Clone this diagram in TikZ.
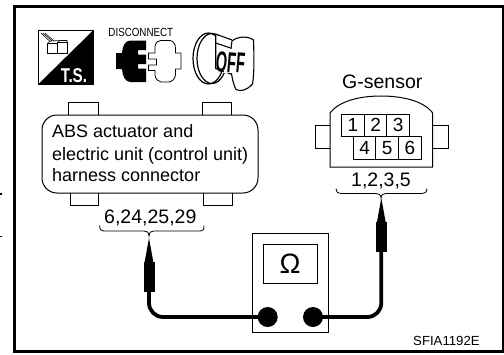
\documentclass[tikz,border=0pt]{standalone}
\usepackage{fontspec}
\setmainfont{Liberation Sans}
\begin{document}
\begin{tikzpicture}[x=1pt,y=-1pt,
  thin line/.style={draw=black,line width=1pt},
  label/.style={inner sep=0pt,anchor=base west,text=black,font=\fontsize{18}{20}\selectfont},
  biglabel/.style={inner sep=0pt,anchor=base west,text=black,font=\fontsize{19.5}{22}\selectfont},
  cell/.style={draw=black,line width=1pt,minimum width=22.6pt,minimum height=22.6pt,inner sep=0pt,font=\fontsize{19}{20}\selectfont},
  grip/.style={fill=black,inner sep=0pt,minimum width=11pt,minimum height=30pt},
  jack/.style={circle,fill=black,inner sep=0pt,minimum size=20pt},
  wire/.style={line width=3.8pt,rounded corners=14pt},
  brace/.style={line width=.8pt}]
\useasboundingbox (0,0) rectangle (504,354);
\fill[white] (0,0) rectangle (504,354);
% frame
\draw[line width=2.7pt] (504,6.3) -- (14.7,6.3) -- (14.7,351.3) -- (504,351.3);
\draw[line width=2.7pt] (503,6.3) -- (503,351.3);
\draw[line width=1.2pt] (0,194) -- (1.5,194);
\draw[line width=.5pt] (0,236.7) -- (1.5,236.7);
% T.S. icon
\draw[line width=.8pt] (38.5,30.5) rectangle (93,84);
\fill (93,30.5) -- (93,84) -- (38.5,84) -- cycle;
\node[inner sep=0pt,anchor=base,text=white,xscale=.76,font=\fontsize{20}{20}\bfseries\selectfont] (ts) at (74,82) {T.S.};
\begin{scope}[line width=.55pt]
\draw (47.5,43.5) rectangle (57.5,53.5);
\draw (57.5,42.5) rectangle (67,53.5);
\draw (47.5,43.5) -- (50.5,41) -- (60,40.5) -- (57.5,42.5) (60,40.5) -- (67,40.5) -- (67,42.5);
\draw (41,33) -- (50,41.5) (43,33) -- (52,41) (45,33) -- (54,41);
\end{scope}
% disconnect icon
\node[inner sep=0pt,anchor=base west,xscale=.83,font=\fontsize{11.8}{12}\selectfont] (disc) at (108.3,36.8) {DISCONNECT};
\fill (116,53) -- (122,53) .. controls (122.5,46) and (125,41) .. (130,40.5) -- (146,40.5)
  -- (146,50) -- (138,50) -- (138,54.5) -- (146,54.5) -- (146,64) -- (138,64) -- (138,68.5) -- (146,68.5) -- (146,82)
  -- (130,82) .. controls (125,81.5) and (122.5,76) .. (122,69) -- (116,69) -- cycle;
\draw[line width=.8pt,line join=round] (148.5,53) -- (155,53) -- (155,46) .. controls (156,42) and (158,40.5) .. (161,40.5) -- (170,40.5)
  .. controls (173,41) and (175.5,44) .. (175.5,48) -- (175.5,53) -- (181,53) -- (181,69) -- (175.5,69) -- (175.5,75)
  .. controls (175,79) and (172,81.5) .. (169,82) -- (161,82) .. controls (158,81.5) and (155.5,79) .. (155,75) -- (155,70.5)
  -- (148.5,70.5) -- (148.5,65) -- (156.5,65) -- (156.5,59) -- (148.5,59) -- cycle;
% key icon
\draw[line width=1.2pt] (208.5,58.5) ellipse (15.5 and 25.5);
\draw[line width=1.2pt] (212,58.5) ellipse (15 and 25);
\fill[white] (216,35) -- (232,40) -- (232,75) -- (216,69) -- cycle;
\draw[line width=1.1pt] (215.7,34) -- (215.7,68.5) -- (232,74.5);
\draw[line width=1.1pt] (215.7,43) -- (232,48.5);
\draw[line width=1.1pt] (215.7,34) -- (232,40);
\draw[line width=1.1pt,fill=white] (232,41) .. controls (238,36) and (248,36) .. (253.5,40)
  .. controls (254,55) and (254.5,72) .. (252.5,84) .. controls (247,90) and (241,92) .. (236,89.5)
  .. controls (231,80) and (229,60) .. (232,41);
\fill[white] (224,49) rectangle (245,73);
\node[inner sep=0pt,rotate=-5,xscale=.5,font=\fontsize{29}{29}\bfseries\selectfont] (off) at (230.5,62.5) {OFF};
% ABS connector
\draw[thin line] (68.5,115) |- (98,102) -- (98,115);
\draw[thin line] (202,115) |- (231,102) -- (231,115);
\draw[thin line] (70,193) |- (98.5,205.5) -- (98.5,193);
\draw[thin line] (203.5,193) |- (232.5,205.5) -- (232.5,193);
\draw[thin line,rounded corners=15pt] (42,115) rectangle (258,193);
\node[label] (l1) at (52,137.5) {ABS actuator and};
\node[label] (l2) at (52,160) {electric unit (control unit)};
\node[label] (l3) at (52,181.5) {harness connector};
\node[biglabel] (pinsl) at (104,223.5) {6,24,25,29};
\draw[brace] (99.5,225.5) .. controls (100,230) and (101,231) .. (105,231) -- (144,231) .. controls (147,231) and (148.5,232) .. (149,236)
  .. controls (149.5,232) and (151,231) .. (154,231) -- (199,231) .. controls (203,231) and (204,230) .. (204,225.5);
% G-sensor
\node[biglabel] (gs) at (342,88) {G-sensor};
\draw[thin line] (330,125) -| (315,148) -- (330,148);
\draw[thin line] (432.7,125) -| (448,148) -- (432.7,148);
\draw[thin line] (330,167) -- (330,113) .. controls (340,100) and (362,96) .. (381,96) .. controls (400,96) and (423,100) .. (432.7,113) -- (432.7,167) -- cycle;
\node[cell] (c1) at (353,125.3) {1};
\node[cell] (c2) at (375.6,125.3) {2};
\node[cell] (c3) at (398.2,125.3) {3};
\node[cell] (c4) at (364.6,147.9) {4};
\node[cell] (c5) at (387.2,147.9) {5};
\node[cell] (c6) at (409.8,147.9) {6};
\node[biglabel] (pinsr) at (351,186) {1,2,3,5};
\draw[brace] (336,188.5) .. controls (336.5,192.5) and (338,193.5) .. (341,193.5) -- (376,193.5) .. controls (379,193.5) and (380.5,194.5) .. (381,198)
  .. controls (381.5,194.5) and (383,193.5) .. (386,193.5) -- (422,193.5) .. controls (425,193.5) and (426.5,192.5) .. (427,188.5);
% meter
\node[draw=black,line width=1pt,inner sep=0pt,minimum width=76pt,minimum height=99pt] (meter) at (290.7,282.5) {};
\node[draw=black,line width=1pt,inner sep=0pt,minimum width=54pt,minimum height=39pt,font=\fontsize{28}{28}\selectfont] (screen) at (290,263.5) {Ω};
\node[jack] (ldot) at (267.7,317) {};
\node[jack] (rdot) at (313,317) {};
% probes
\node[grip] (lgrip) at (149,277) {};
\node[grip] (rgrip) at (381.3,237) {};
\fill (144.5,263) -- (149,238) -- (153.5,263) -- cycle;
\fill (376.8,223) -- (381.3,198) -- (385.8,223) -- cycle;
\draw[wire] (lgrip.south) |- (ldot.center);
\draw[wire] (rgrip.south) |- (rdot.center);
\node[inner sep=0pt,anchor=base west,font=\fontsize{13.2}{14}\selectfont] (code) at (413,345) {SFIA1192E};
\end{tikzpicture}
\end{document}
